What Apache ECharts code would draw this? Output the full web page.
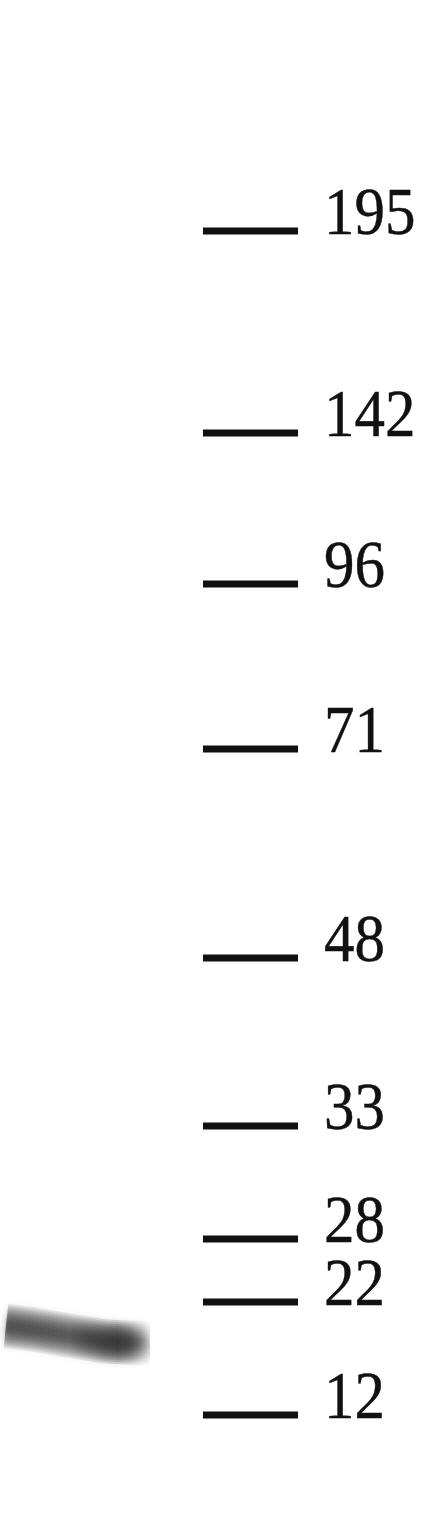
<!DOCTYPE html>
<html>
<head>
<meta charset="utf-8">
<script src="https://cdn.jsdelivr.net/npm/echarts@6/dist/echarts.min.js"></script>
<style>
  html, body { margin: 0; padding: 0; background: #fff; }
  #chart { width: 433px; height: 1520px; }
</style>
</head>
<body>
<div id="chart"></div>
<script>
// ---- data ----
const markerLabels = ['195', '142', '96', '71', '48', '33', '28', '22', '12'];
const markerMigration = [231, 433, 584, 749, 958, 1126, 1239, 1302, 1415];
const bandLanePos = [6, 30, 60, 90, 115, 150];
const bandMigration = [1326, 1329, 1334, 1339, 1342, 1343];

// ---- layout / style ----
const LANE_START = 203, LANE_END = 298;

function bandGradient(alpha, w) {
  const s = (w - 8) / 36 * 0.1;   // wider (outer) layers fade earlier -> rounded end
  const c = (k) => 'rgba(35,35,35,' + Math.min(1, alpha * k).toFixed(3) + ')';
  return new echarts.graphic.LinearGradient(0, 0, 1, 0, [
    { offset: 0, color: c(1.5) },
    { offset: 0.025, color: c(0.85) },
    { offset: 0.45, color: c(0.75) },
    { offset: 0.62, color: c(1.05) },
    { offset: 0.76 - s * 0.5, color: c(1.2) },
    { offset: 0.86 - s, color: c(0.95) },
    { offset: 0.94 - s, color: c(0.35) },
    { offset: 1 - s, color: c(0.0) },
    { offset: 1, color: c(0.0) }
  ]);
}
const bandWidths = [44, 40, 36, 32, 28, 24, 20, 16, 12, 8];
const bandAlpha = 0.12;

const chart = echarts.init(document.getElementById('chart'));
chart.setOption({
  animation: false,
  backgroundColor: '#ffffff',
  grid: { left: 0, right: 0, top: 0, bottom: 0 },
  xAxis: { type: 'value', min: 0, max: 433, show: false },
  yAxis: { type: 'value', min: 0, max: 1520, inverse: true, show: false },
  series: [
    {
      type: 'custom',
      data: markerMigration.map(m => [0, m]),
      renderItem: function (params, api) {
        const m = api.value(1);
        const p0 = api.coord([LANE_START, m]);
        const p1 = api.coord([LANE_END, m]);
        return {
          type: 'group',
          children: [
            { type: 'rect', shape: { x: p0[0], y: p0[1] - 3.5, width: p1[0] - p0[0], height: 7 },
              style: { fill: '#111' } },
            { type: 'text', x: p1[0] + 26, y: p0[1] - 15, scaleY: 1.1,
              style: { text: markerLabels[params.dataIndex], fill: '#111',
                       stroke: '#111', lineWidth: 0.4,
                       font: '61px "Liberation Serif"', textAlign: 'left', verticalAlign: 'middle' } }
          ]
        };
      }
    }
  ].concat(bandWidths.map((w) => ({
    type: 'line',
    data: bandLanePos.map((x, i) => [x, bandMigration[i]]),
    smooth: true,
    symbol: 'none',
    lineStyle: {
      width: w,
      cap: 'butt',
      color: bandGradient(bandAlpha, w),
      shadowBlur: 6,
      shadowColor: 'rgba(35,35,35,0.5)'
    }
  })))
});
</script>
</body>
</html>
